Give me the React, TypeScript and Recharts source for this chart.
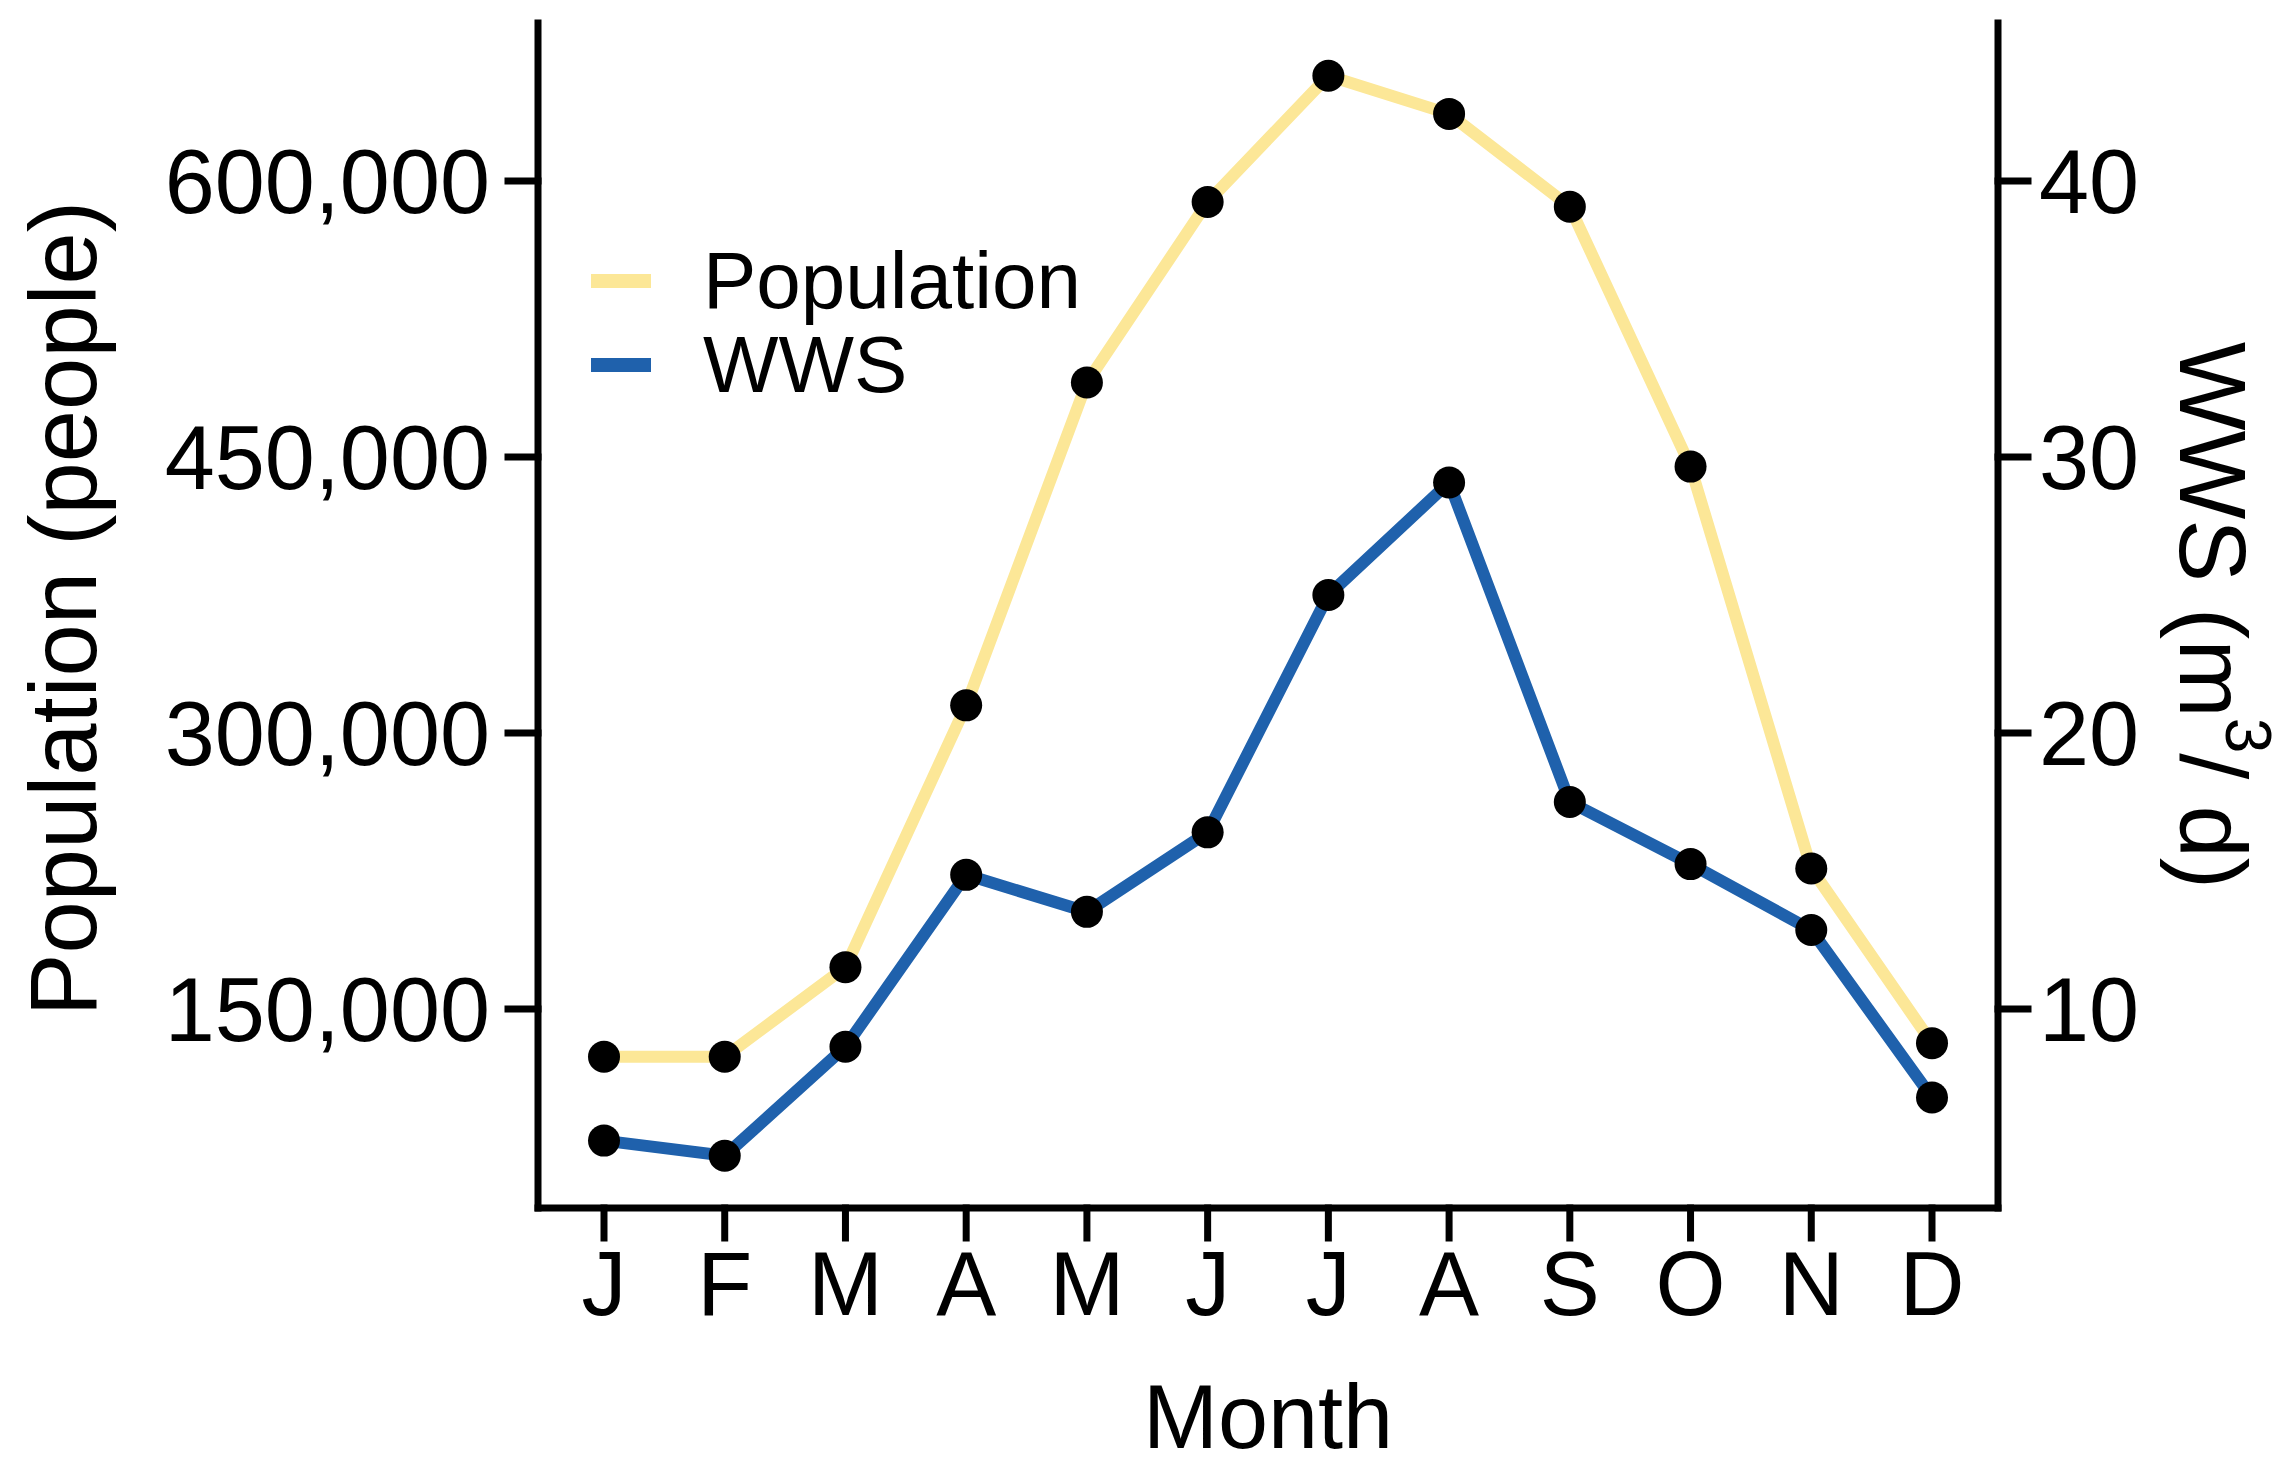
import React from "react";
import { Legend, Line, LineChart, XAxis, YAxis } from "recharts";

// values
const months = ["J", "F", "M", "A", "M", "J", "J", "A", "S", "O", "N", "D"];
const population = [124000, 124000, 172700, 315000, 490500, 588600, 657200, 636500, 586000, 444800, 226300, 131400];
const wws = [5.23, 4.68, 8.63, 14.86, 13.52, 16.4, 25.0, 29.08, 17.5, 15.25, 12.86, 6.79];
const popTicks = [150000, 300000, 450000, 600000];
const wwsTicks = [10, 20, 30, 40];

const data = months.map((m, i) => ({ month: m, population: population[i], wws: wws[i] }));

const FONT = "'Liberation Sans', Arial, Helvetica, sans-serif";
const YELLOW = "#FCE797";
const BLUE = "#1F61AC";
const axisStyle = { stroke: "#000", strokeWidth: 7, strokeLinecap: "square" as const };
const tickStyle = { fontSize: 90, fill: "#000", fontFamily: FONT };

function LeftTitle(props: any) {
  const { x, y, height } = props.viewBox;
  const cx = x + 96;
  const cy = y + height / 2 - 7;
  return (
    <text x={cx} y={cy} transform={`rotate(-90 ${cx} ${cy})`} textAnchor="middle" fontSize={94} fontFamily={FONT} fill="#000">
      Population (people)
    </text>
  );
}

function RightTitle(props: any) {
  const { x, y, height } = props.viewBox;
  const cx = x + 182;
  const cy = y + height / 2;
  return (
    <text x={cx} y={cy} transform={`rotate(90 ${cx} ${cy})`} textAnchor="middle" fontSize={94} fontFamily={FONT} fill="#000">
      WWS (m
      <tspan dy={-46} fontSize={64}>3</tspan>
      <tspan dy={46}>/ d)</tspan>
    </text>
  );
}

function BottomTitle(props: any) {
  const { x, y, width } = props.viewBox;
  return (
    <text x={x + width / 2} y={y + 240} textAnchor="middle" fontSize={90} fontFamily={FONT} fill="#000">
      Month
    </text>
  );
}

function LegendBox(props: any) {
  const items = props.payload || [];
  return (
    <div style={{ fontFamily: FONT, fontSize: 80, lineHeight: "84px", color: "#000" }}>
      {items.map((it: any) => (
        <div key={it.value} style={{ display: "flex", alignItems: "center", height: 84 }}>
          <svg width={60} height={14} style={{ display: "block" }}>
            <rect width={60} height={14} fill={it.color} />
          </svg>
          <span style={{ marginLeft: 52 }}>{it.value}</span>
        </div>
      ))}
    </div>
  );
}

export default function App() {
  return (
    <div style={{ position: "absolute", left: 0, top: 0, background: "#fff" }}>
      <LineChart width={2286} height={1469} data={data} margin={{ top: 23, right: 0, bottom: 0, left: 0 }}>
        <XAxis
          dataKey="month"
          height={261}
          padding={{ left: 66, right: 66 }}
          axisLine={axisStyle}
          tickLine={axisStyle}
          tickSize={30}
          tickMargin={13}
          tick={tickStyle}
          interval={0}
          label={<BottomTitle />}
        />
        <YAxis
          yAxisId="pop"
          orientation="left"
          width={538}
          domain={[41800, 685900]}
          ticks={popTicks}
          tickFormatter={(v: number) => v.toLocaleString("en-US")}
          axisLine={axisStyle}
          tickLine={axisStyle}
          tickSize={30}
          tickMargin={18}
          tick={tickStyle}
          allowDataOverflow
          label={<LeftTitle />}
        />
        <YAxis
          yAxisId="wws"
          orientation="right"
          width={288}
          domain={[2.787, 45.73]}
          ticks={wwsTicks}
          axisLine={axisStyle}
          tickLine={axisStyle}
          tickSize={30}
          tickMargin={11}
          tick={tickStyle}
          allowDataOverflow
          label={<RightTitle />}
        />
        <Legend
          layout="horizontal"
          verticalAlign="middle"
          align="center"
          content={<LegendBox />}
          wrapperStyle={{ left: 591, top: 239, width: "auto", height: "auto" }}
        />
        <Line
          yAxisId="pop"
          type="linear"
          dataKey="population"
          name="Population"
          stroke={YELLOW}
          strokeWidth={12}
          dot={{ r: 16, fill: "#000", stroke: "none" }}
          activeDot={false}
          isAnimationActive={false}
        />
        <Line
          yAxisId="wws"
          type="linear"
          dataKey="wws"
          name="WWS"
          stroke={BLUE}
          strokeWidth={12}
          dot={{ r: 16, fill: "#000", stroke: "none" }}
          activeDot={false}
          isAnimationActive={false}
        />
      </LineChart>
    </div>
  );
}
